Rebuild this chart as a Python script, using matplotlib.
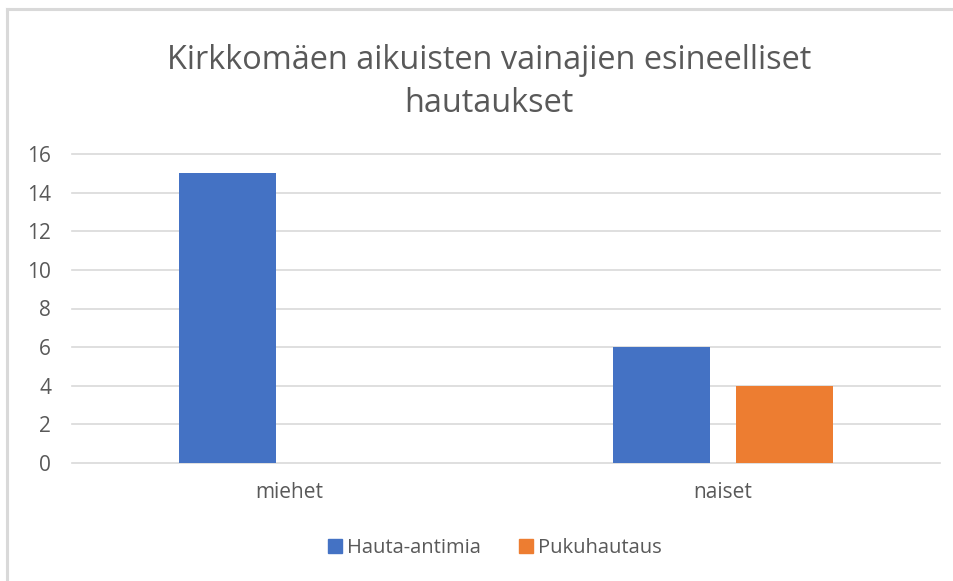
import matplotlib.pyplot as plt
import numpy as np
from matplotlib.lines import Line2D

# chart data
categories = ["miehet", "naiset"]
series_names = ["Hauta-antimia", "Pukuhautaus"]
hauta_antimia = [15, 6]
pukuhautaus = [0, 4]
y_ticks = [0, 2, 4, 6, 8, 10, 12, 14, 16]

blue = "#4472c4"
orange = "#ed7d31"
text_col = "#595959"
grid_col = "#d9d9d9"

plt.rcParams["font.family"] = ["Open Sans", "DejaVu Sans"]

fig = plt.figure(figsize=(9.54, 5.81), dpi=100)
ax = fig.add_axes([72 / 954, 1 - 463 / 581, (940 - 72) / 954, (463 - 154) / 581])

x = np.arange(len(categories))
w = 0.224
off = 0.142
ax.bar(x - off, hauta_antimia, width=w, color=blue, label=series_names[0], zorder=3)
ax.bar(x + off, pukuhautaus, width=w, color=orange, label=series_names[1], zorder=3)

ax.set_xlim(-0.5, 1.5)
ax.set_ylim(0, 16)
ax.set_yticks(y_ticks)
ax.set_xticks(x)
ax.set_xticklabels(categories)
ax.yaxis.grid(True, color=grid_col, linewidth=1.2, zorder=0)
ax.set_axisbelow(True)
for s in ax.spines.values():
    s.set_visible(False)
ax.tick_params(axis="both", length=0, labelsize=15, labelcolor=text_col)
ax.tick_params(axis="y", pad=15)
ax.tick_params(axis="x", pad=14)
for line in ax.get_ygridlines():
    line.set_clip_on(False)

fig.text(489 / 954, 1 - 82 / 581, "Kirkkomäen aikuisten vainajien esineelliset\nhautaukset",
         ha="center", va="center", fontsize=23.4, color=text_col, linespacing=1.42)

handles = [Line2D([], [], marker="s", linestyle="none", markersize=10, color=blue),
           Line2D([], [], marker="s", linestyle="none", markersize=10, color=orange)]
fig.legend(handles, series_names, loc="center", bbox_to_anchor=(494 / 954, 1 - 548 / 581),
           ncol=2, frameon=False, fontsize=14.5, labelcolor=text_col,
           handletextpad=0.15, columnspacing=1.8, handlelength=0.9)

# light border at top and left edge
fig.add_artist(Line2D([7 / 954, 1], [1 - 9 / 581, 1 - 9 / 581], color="#d9d9d9", linewidth=2.2))
fig.add_artist(Line2D([7 / 954, 7 / 954], [0, 1 - 9 / 581], color="#d9d9d9", linewidth=2.2))

fig.savefig("out.png", dpi=100)
